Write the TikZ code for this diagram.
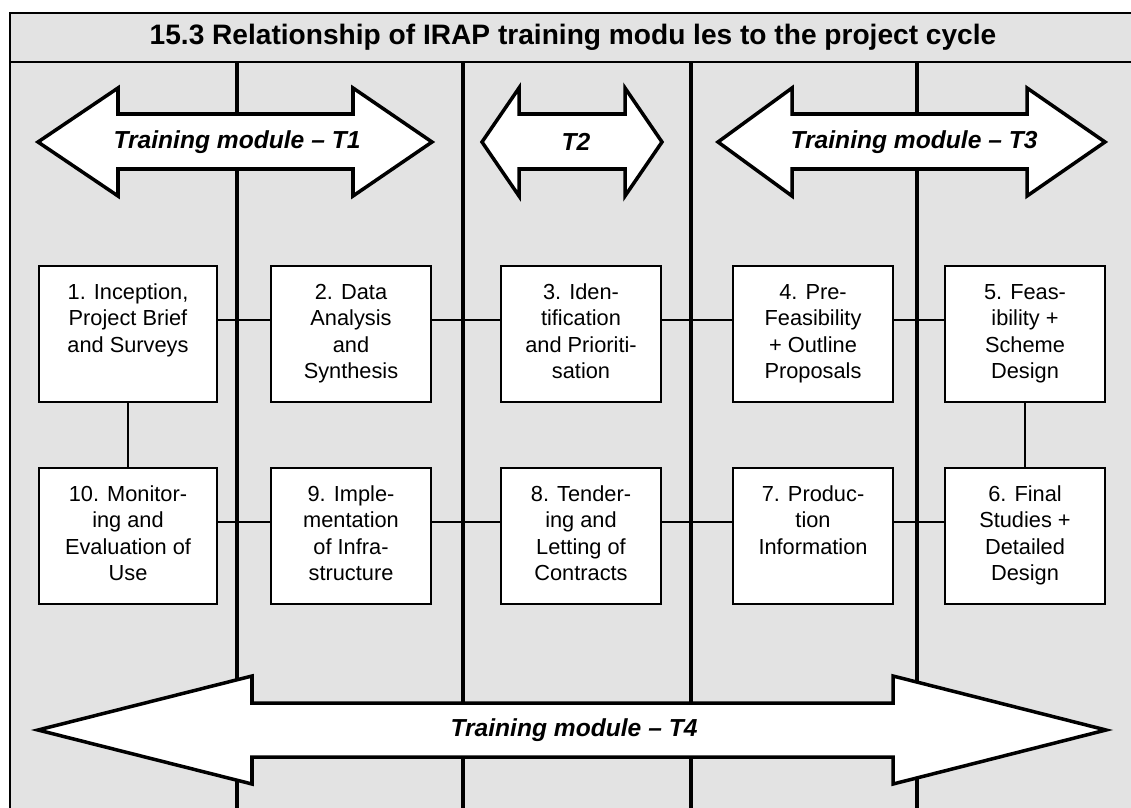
\documentclass[tikz,border=0pt]{standalone}
\usepackage{fontspec}
\setmainfont{Liberation Sans}
\definecolor{panelgrey}{RGB}{227,227,227}
\newcommand{\stagetext}[2]{\parbox[c][2.72cm][t]{#1}{\centering\rule{0pt}{19pt}#2}}
\begin{document}
\begin{tikzpicture}[x=0.02cm, y=-0.02cm,
    stage/.style={draw, fill=white, line width=0.9pt, inner sep=0pt, font=\fontsize{12.4}{15}\selectfont},
    link/.style={line width=0.8pt},
    divider/.style={line width=1.9pt},
    bigarrow/.style={draw, fill=white, line width=2pt, line join=miter},
    armlabel/.style={font=\fontsize{14}{17}\selectfont\bfseries\itshape},
]
\useasboundingbox (0,0) rectangle (1131,807);
\clip (0,0) rectangle (1131,807);

% frame and title band
\draw[fill=panelgrey, line width=1.7pt] (10,13) rectangle (1140,820);
\draw[line width=1.7pt] (10,62) -- (1140,62);
\node[font=\fontsize{16}{19}\selectfont\bfseries] (title) at (573,37) {15.3 Relationship of IRAP training modu les to the project cycle};

% column dividers
\foreach \xd in {237,463,691,917}
  \draw[divider] (\xd,62) -- (\xd,820);

% project cycle stages
\node[stage] (s1) at (128,334) {\stagetext{3.56cm}{1. Inception,\\Project Brief\\and Surveys}};
\node[stage] (s2) at (351,334) {\stagetext{3.2cm}{2. Data\\Analysis\\and\\Synthesis}};
\node[stage] (s3) at (581,334) {\stagetext{3.2cm}{3. Iden-\\tification\\and Prioriti-\\sation}};
\node[stage] (s4) at (813,334) {\stagetext{3.2cm}{4. Pre-\\Feasibility\\+ Outline\\Proposals}};
\node[stage] (s5) at (1025,334) {\stagetext{3.2cm}{5. Feas-\\ibility +\\Scheme\\Design}};
\node[stage] (s6) at (1025,536) {\stagetext{3.2cm}{6. Final\\Studies +\\Detailed\\Design}};
\node[stage] (s7) at (813,536) {\stagetext{3.2cm}{7. Produc-\\tion\\Information}};
\node[stage] (s8) at (581,536) {\stagetext{3.2cm}{8. Tender-\\ing and\\Letting of\\Contracts}};
\node[stage] (s9) at (351,536) {\stagetext{3.2cm}{9. Imple-\\mentation\\of Infra-\\structure}};
\node[stage] (s10) at (128,536) {\stagetext{3.56cm}{10. Monitor-\\ing and\\Evaluation of\\Use}};

\draw[link] ([yshift=0.28cm]s1.east) -- ([yshift=0.28cm]s2.west);
\draw[link] ([yshift=0.28cm]s2.east) -- ([yshift=0.28cm]s3.west);
\draw[link] ([yshift=0.28cm]s3.east) -- ([yshift=0.28cm]s4.west);
\draw[link] ([yshift=0.28cm]s4.east) -- ([yshift=0.28cm]s5.west);
\draw[link] ([yshift=0.28cm]s10.east) -- ([yshift=0.28cm]s9.west);
\draw[link] ([yshift=0.28cm]s9.east) -- ([yshift=0.28cm]s8.west);
\draw[link] ([yshift=0.28cm]s8.east) -- ([yshift=0.28cm]s7.west);
\draw[link] ([yshift=0.28cm]s7.east) -- ([yshift=0.28cm]s6.west);
\draw[link] (s1) -- (s10);
\draw[link] (s5) -- (s6);

% training modules
\draw[bigarrow] (38,142) -- (118,88) -- (118,114) -- (353,114) -- (353,88) -- (432,142)
  -- (353,196) -- (353,169) -- (118,169) -- (118,196) -- cycle;
\node[armlabel] (t1) at (237,142) {Training module -- T1};

\draw[bigarrow] (482,142) -- (519,88) -- (519,114) -- (625,114) -- (625,88) -- (662,142)
  -- (625,196) -- (625,169) -- (519,169) -- (519,196) -- cycle;
\node[armlabel] (t2) at (576,142) {T2};

\draw[bigarrow] (718,142) -- (792,88) -- (792,114) -- (1027,114) -- (1027,88) -- (1105,142)
  -- (1027,196) -- (1027,169) -- (792,169) -- (792,196) -- cycle;
\node[armlabel] (t3) at (914,142) {Training module -- T3};

\draw[bigarrow] (38,730) -- (252,676) -- (252,703) -- (893,703) -- (893,676) -- (1106,730)
  -- (893,784) -- (893,757) -- (252,757) -- (252,784) -- cycle;
\node[armlabel] (t4) at (574,730) {Training module -- T4};

\end{tikzpicture}
\end{document}
